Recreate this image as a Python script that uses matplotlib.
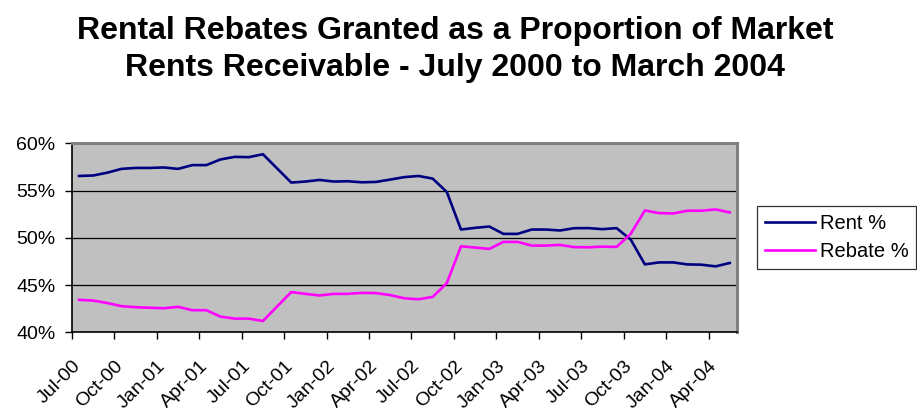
import matplotlib.pyplot as plt
import matplotlib

matplotlib.rcParams["font.family"] = ["Liberation Sans", "DejaVu Sans"]

# Monthly shares (%), July 2000 onwards
rent_pct = [
    56.55, 56.6, 56.9, 57.3, 57.4, 57.4, 57.45, 57.3, 57.7, 57.7, 58.3, 58.57,
    58.54, 58.85, 57.35, 55.85, 55.96, 56.13, 55.96, 55.99, 55.88, 55.92, 56.17, 56.43,
    56.55, 56.27, 54.85, 50.88, 51.06, 51.2, 50.42, 50.42, 50.88, 50.88, 50.78, 51.02,
    51.03, 50.92, 51.03, 49.82, 47.19, 47.4, 47.4, 47.19, 47.16, 46.98, 47.34,
]
rebate_pct = [
    43.44, 43.36, 43.1, 42.77, 42.66, 42.6, 42.55, 42.7, 42.34, 42.34, 41.66, 41.45,
    41.45, 41.2, 42.73, 44.26, 44.07, 43.9, 44.07, 44.07, 44.18, 44.15, 43.94, 43.6,
    43.5, 43.75, 45.21, 49.11, 48.97, 48.83, 49.57, 49.57, 49.18, 49.18, 49.25, 49.02,
    49.0, 49.07, 49.04, 50.42, 52.9, 52.62, 52.58, 52.87, 52.87, 53.01, 52.69,
]
tick_labels = [
    "Jul-00", "Oct-00", "Jan-01", "Apr-01", "Jul-01", "Oct-01", "Jan-02", "Apr-02",
    "Jul-02", "Oct-02", "Jan-03", "Apr-03", "Jul-03", "Oct-03", "Jan-04", "Apr-04",
]
y_ticks = [40, 45, 50, 55, 60]

n = len(rent_pct)
x = [i + 0.5 for i in range(n)]

fig = plt.figure(figsize=(9.17, 4.12), dpi=100)
ax = fig.add_axes([0.0785, 0.1934, 0.725, 0.4586])
ax.set_facecolor("#C0C0C0")

ax.plot(x, rent_pct, color="#000080", lw=1.9, label="Rent %", zorder=3)
ax.plot(x, rebate_pct, color="#FF00FF", lw=1.9, label="Rebate %", zorder=3)

ax.set_xlim(0, n)
ax.set_ylim(40, 60)
ax.set_yticks(y_ticks)
ax.set_yticklabels([f"{v}%" for v in y_ticks], fontsize=14)
ax.yaxis.grid(True, color="black", lw=0.9)
ax.set_axisbelow(True)

ax.set_xticks(range(0, 3 * len(tick_labels), 3))
ax.set_xticklabels(tick_labels, fontsize=14, rotation=45, ha="right",
                   rotation_mode="anchor")
ax.tick_params(axis="x", direction="out", length=5, width=1, pad=13)
ax.tick_params(axis="y", direction="out", length=5, width=1, pad=7)

for side in ("top", "right"):
    ax.spines[side].set_color("#808080")
    ax.spines[side].set_linewidth(2.2)
for side in ("left", "bottom"):
    ax.spines[side].set_color("black")
    ax.spines[side].set_linewidth(1.2)

leg = ax.legend(loc="center left", bbox_to_anchor=(1.0305, 0.5), fontsize=14.5,
                frameon=True, fancybox=False, edgecolor="black",
                handlelength=2.5, handletextpad=0.2, borderpad=0.4,
                labelspacing=0.45, borderaxespad=0)
leg.get_frame().set_linewidth(0.9)

fig.text(0.496, 0.962, "Rental Rebates Granted as a Proportion of Market\n"
         "Rents Receivable - July 2000 to March 2004",
         ha="center", va="top", fontsize=23, fontweight="bold", linespacing=1.3)

fig.savefig("out.png", dpi=100)
